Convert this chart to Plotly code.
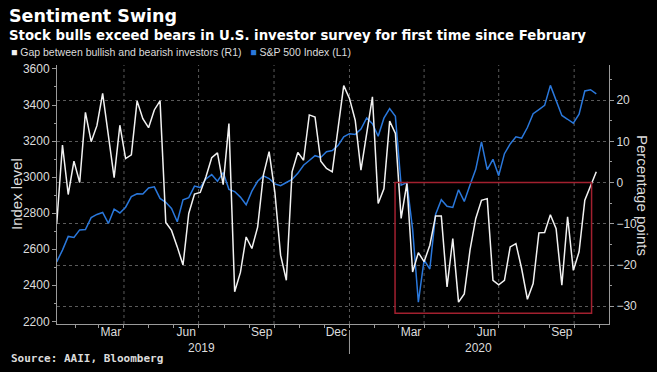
import pandas as pd
import plotly.graph_objects as go

# ---------------- data ----------------
dates = pd.date_range("2019-01-09", periods=95, freq="7D")

sp500 = [2530, 2595, 2671, 2665, 2707, 2709, 2775, 2793, 2804, 2743,
         2822, 2801, 2833, 2892, 2907, 2906, 2940, 2946, 2882, 2860,
         2826, 2752, 2874, 2886, 2950, 2942, 2990, 3014, 2977, 3025,
         2932, 2920, 2889, 2847, 2922, 2977, 3007, 2992, 2962, 2952,
         2970, 2987, 3021, 3066, 3092, 3119, 3109, 3141, 3147, 3175,
         3223, 3241, 3237, 3267, 3328, 3296, 3227, 3327, 3380, 3337,
         2955, 2970, 2711, 2306, 2540, 2490, 2793, 2875, 2838, 2832,
         2930, 2865, 2956, 3043, 3195, 3042, 3099, 3008, 3130, 3184,
         3224, 3216, 3275, 3352, 3375, 3398, 3509, 3427, 3342, 3321,
         3299, 3349, 3478, 3485, 3462]

bull_bear_gap = [-10.0, 9.1, -2.9, 5.2, 0.0, 17.0, 9.9, 13.8, 21.6, 11.4,
                 1.2, 13.9, 5.8, 6.7, 19.8, 15.5, 13.3, 17.6, 19.8, -9.7,
                 -11.6, -15.6, -20.0, -7.5, -2.8, -2.4, 1.4, 6.0, 7.2, -0.5,
                 14.3, -26.5, -21.8, -13.2, -16.0, -10.8, 1.8, 7.5, -2.3, -17.6,
                 -23.7, 2.6, 7.3, 5.4, 16.4, 15.9, 5.2, 3.4, 2.6, 13.0,
                 23.5, 20.4, 15.1, 3.0, 11.9, 20.8, -5.1, -1.5, 14.9, 11.9,
                 -8.7, -0.2, -21.7, -17.0, -19.2, -15.2, -8.1, -8.1, -25.3, -13.6,
                 -29.0, -27.0, -16.4, -8.7, -4.3, -3.9, -23.7, -24.8, -23.7, -15.6,
                 -14.8, -20.9, -28.3, -24.5, -12.2, -12.1, -7.8, -11.2, -24.9, -8.3,
                 -21.3, -16.8, -4.3, -0.6, 2.6]

month_label_dates = ["2019-03-16", "2019-06-16", "2019-09-16", "2019-12-16",
                     "2020-03-16", "2020-06-16", "2020-09-16"]
month_labels = ["Mar", "Jun", "Sep", "Dec", "Mar", "Jun", "Sep"]
month_starts = [d.strftime("%Y-%m-%d") for d in pd.date_range("2019-02-01", "2020-11-01", freq="MS")]
quarter_grid = ["2019-04-01", "2019-07-01", "2019-10-01", "2020-01-01",
                "2020-04-01", "2020-07-01", "2020-10-01"]
years = ["2019", "2020"]
year_label_dates = ["2019-07-05", "2020-06-06"]

left_ticks = [2200, 2400, 2600, 2800, 3000, 3200, 3400, 3600]
right_ticks = [-30, -20, -10, 0, 10, 20]

# ---------------- styling ----------------
FONT = "Liberation Sans, Arial, sans-serif"
TXT = "#dcdcdc"
AX = "#9a9a9a"
GRID = "#5a5a5a"
WHITE = "#f2f2f2"
BLUE = "#2a78dc"
RED = "#a2202f"

fig = go.Figure()
fig.add_trace(go.Scatter(x=dates, y=sp500, mode="lines", name="S&P 500 Index (L1)",
                         line=dict(color=BLUE, width=1.5), yaxis="y", showlegend=False))
fig.add_trace(go.Scatter(x=dates, y=bull_bear_gap, mode="lines",
                         name="Gap between bullish and bearish investors (R1)",
                         line=dict(color=WHITE, width=1.5), yaxis="y2", showlegend=False))

L, R, T, B = 57, 48, 65, 48
W, H = 657, 372
pw, ph = W - L - R, H - T - B


def px(x):
    return (x - L) / pw


def py(y):
    return (H - B - y) / ph


fig.update_layout(
    width=W, height=H,
    margin=dict(l=L, r=R, t=T, b=B, pad=0, autoexpand=False),
    paper_bgcolor="black", plot_bgcolor="black",
    font=dict(family=FONT, color=TXT, size=12),
    xaxis=dict(
        type="date",
        range=["2019-01-09 08:00", "2020-11-12 12:00"],
        tickmode="array", tickvals=month_label_dates, ticktext=month_labels,
        ticks="", showgrid=False, zeroline=False,
        showline=True, linecolor=AX, linewidth=1,
        tickfont=dict(size=12, color=TXT),
        ticklabelstandoff=-3,
        minor=dict(tickmode="array", tickvals=month_starts, ticks="outside",
                   ticklen=3, tickcolor=AX, showgrid=False),
    ),
    yaxis=dict(
        range=[2185, 3622],
        tickmode="array", tickvals=left_ticks,
        ticks="outside", ticklen=4, tickcolor=AX,
        showgrid=False, zeroline=False,
        showline=True, linecolor=AX, linewidth=1,
        tickfont=dict(size=12, color=TXT),
        minor=dict(dtick=100, tick0=2200, ticks="outside", ticklen=2, tickcolor=AX, showgrid=False),
    ),
    yaxis2=dict(
        overlaying="y", side="right",
        range=[-34.3, 28.5],
        tickmode="array", tickvals=right_ticks,
        ticks="outside", ticklen=4, tickcolor=AX,
        showgrid=True, gridcolor=GRID, griddash="dot", gridwidth=1,
        zeroline=False,
        showline=True, linecolor=AX, linewidth=1,
        tickfont=dict(size=12, color=TXT),
        minor=dict(dtick=5, tick0=0, ticks="outside", ticklen=2, tickcolor=AX, showgrid=False),
    ),
)

shapes = []
for g in quarter_grid:
    shapes.append(dict(type="line", xref="x", yref="paper", x0=g, x1=g, y0=0, y1=1,
                       line=dict(color=GRID, width=1, dash="dot"), layer="below"))
shapes.append(dict(type="line", xref="x", yref="paper", x0="2020-01-01", x1="2020-01-01",
                   y0=py(330), y1=py(354), line=dict(color=AX, width=1)))
shapes.append(dict(type="rect", xref="x", yref="y2",
                   x0="2020-02-25 14:00", x1="2020-10-22 06:00", y0=0, y1=-31.7,
                   line=dict(color=RED, width=1.5), fillcolor="rgba(0,0,0,0)"))
fig.update_layout(shapes=shapes)

ann = []
for yl, yd in zip(years, year_label_dates):
    ann.append(dict(text=yl, x=yd, xref="x", y=py(348), yref="paper",
                    showarrow=False, xanchor="center", yanchor="middle",
                    font=dict(size=12, color=TXT)))
ann.append(dict(text="Index level", textangle=-90, x=px(16), y=py(194),
                xref="paper", yref="paper", showarrow=False,
                xanchor="center", yanchor="middle", font=dict(size=15, color=TXT)))
ann.append(dict(text="Percentage points", textangle=90, x=px(643), y=py(195),
                xref="paper", yref="paper", showarrow=False,
                xanchor="center", yanchor="middle", font=dict(size=15, color=TXT)))
ann.append(dict(text="<b>Sentiment Swing</b>", x=px(7), y=py(16), xref="paper", yref="paper",
                showarrow=False, xanchor="left", yanchor="middle",
                font=dict(size=17.5, color="white", family="DejaVu Sans, sans-serif")))
ann.append(dict(text="<b>Stock bulls exceed bears in U.S. investor survey for first time since February</b>",
                x=px(7), y=py(35), xref="paper", yref="paper",
                showarrow=False, xanchor="left", yanchor="middle",
                font=dict(size=13.3, color="white", family="DejaVu Sans, sans-serif")))
ann.append(dict(text=("<span style='color:%s'>■</span> Gap between bullish and bearish investors (R1)"
                      "   <span style='color:%s'>■</span> S&P 500 Index (L1)") % (WHITE, BLUE),
                x=px(9), y=py(52), xref="paper", yref="paper",
                showarrow=False, xanchor="left", yanchor="middle",
                font=dict(size=10.5, color=TXT, family=FONT)))
ann.append(dict(text="<b>Source: AAII, Bloomberg</b>", x=px(9), y=py(358), xref="paper", yref="paper",
                showarrow=False, xanchor="left", yanchor="middle",
                font=dict(size=11, color=TXT, family="DejaVu Sans Mono, monospace")))
fig.update_layout(annotations=ann)

fig.write_html("out.html", config={"displayModeBar": False},
               post_script="document.body.style.margin='0';document.body.style.background='black';")
